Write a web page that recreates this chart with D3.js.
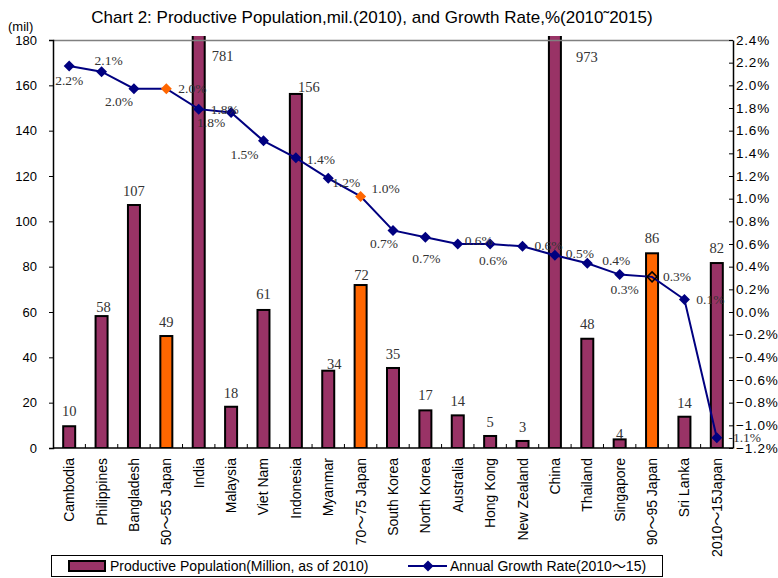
<!DOCTYPE html>
<html>
<head>
<meta charset="utf-8">
<script src="https://cdn.jsdelivr.net/npm/d3@7"></script>
<style>
  body { margin: 0; background: #fff; }
  svg { display: block; }
  .sans { font-family: "Liberation Sans", Arial, "Noto Sans CJK JP", sans-serif; }
  .serif { font-family: "Liberation Serif", "Times New Roman", serif; }
</style>
</head>
<body>
<svg id="chart" width="778" height="578"></svg>
<script>
// categories, in chart order
var categories = ['Cambodia', 'Philippines', 'Bangladesh', '50〜55 Japan', 'India',
  'Malaysia', 'Viet Nam', 'Indonesia', 'Myanmar', '70〜75 Japan', 'South Korea',
  'North Korea', 'Australia', 'Hong Kong', 'New Zealand', 'China', 'Thailand',
  'Singapore', '90〜95 Japan', 'Sri Lanka', '2010〜15Japan'];

// productive population, million (2010)
var population = [9.6, 58.2, 107.2, 49.4, 781, 18.2, 60.9, 156.2, 34.1, 71.9, 35.3,
  16.6, 14.4, 5.3, 3.1, 973, 48.2, 3.8, 85.9, 13.8, 81.6];

// annual growth rate, % (2010-15)
var growthRate = [2.17, 2.12, 1.97, 1.97, 1.79, 1.76, 1.51, 1.36, 1.18, 1.02, 0.72,
  0.66, 0.60, 0.60, 0.58, 0.50, 0.43, 0.33, 0.31, 0.11, -1.11];

// historic Japan periods drawn in orange
var japanPeriods = ['50〜55 Japan', '70〜75 Japan', '90〜95 Japan'];
var orangeMarkers = ['50〜55 Japan', '70〜75 Japan'];
var hollowMarkers = ['90〜95 Japan'];

var popTicks = [0, 20, 40, 60, 80, 100, 120, 140, 160, 180];
var rateTicks = [-1.2, -1.0, -0.8, -0.6, -0.4, -0.2, 0, 0.2, 0.4, 0.6, 0.8, 1.0,
  1.2, 1.4, 1.6, 1.8, 2.0, 2.2, 2.4];

var title = 'Chart 2: Productive Population,mil.(2010), and Growth Rate,%(2010˜2015)';
var legendPop = 'Productive Population(Million, as of 2010)';
var legendRate = 'Annual Growth Rate(2010〜15)';

// label nudges, as Excel placed them (dx, dy in px)
var popLabelOffset = [[0, -15], [2, -9], [0, -14], [0, -14], [24, 16], [0, -14],
  [0, -16], [13, -7], [6, -7], [1, -10], [0, -14], [0, -15], [0, -14], [0, -14],
  [0, -14], [32, 17], [0, -15], [0, -5], [0, -15], [0, -14], [0, -15]];
var rateLabelOffset = [[0, 14.5], [7, -11], [-15, 13], [26, 0], [26, 0], [-20, 10],
  [-19, 13], [25, 1], [18, 4], [25, -8], [-9, 13], [1, 21], [21, -4], [3, 16],
  [26, -1], [25, -2], [29, -3], [5, 15], [25, -1], [26, 0], [28, -1]];

var purple = '#993366';
var orange = '#FF6600';
var navy = '#000080';

var plot = {left: 53, right: 733, top: 40, bottom: 448};

var svg = d3.select('#chart');

var x = d3.scaleBand()
  .domain(categories)
  .range([plot.left, plot.right]);

var yPop = d3.scaleLinear()
  .domain([0, 180])
  .range([plot.bottom, plot.top]);

var yRate = d3.scaleLinear()
  .domain([-1.2, 2.4])
  .range([plot.bottom, plot.top]);

// title
svg.append('text')
  .attr('class', 'sans')
  .attr('x', 372)
  .attr('y', 23)
  .attr('text-anchor', 'middle')
  .style('font-size', '17px')
  .text(title);

svg.append('text')
  .attr('class', 'sans')
  .attr('x', 8)
  .attr('y', 31)
  .style('font-size', '13px')
  .text('(mil)');

// clip tall bars a bit above the plot top like the original
svg.append('clipPath')
  .attr('id', 'plot-clip')
  .append('rect')
  .attr('x', 0)
  .attr('y', plot.top - 4)
  .attr('width', 778)
  .attr('height', plot.bottom - plot.top + 4);

var barW = 12;
var bars = svg.append('g').attr('clip-path', 'url(#plot-clip)');
bars.selectAll('rect')
  .data(categories)
  .enter()
  .append('rect')
  .attr('x', function (d) { return x(d) + x.bandwidth() / 2 - barW / 2; })
  .attr('y', function (d, i) { return yPop(population[i]); })
  .attr('width', barW)
  .attr('height', function (d, i) { return yPop(0) - yPop(population[i]); })
  .attr('fill', function (d) { return japanPeriods.indexOf(d) >= 0 ? orange : purple; })
  .attr('stroke', '#000')
  .attr('stroke-width', 2);

// top border of the plot area
svg.append('line')
  .attr('x1', plot.left).attr('x2', plot.right)
  .attr('y1', plot.top + 0.5).attr('y2', plot.top + 0.5)
  .attr('stroke', '#808080')
  .attr('stroke-width', 1.5);

// left axis
var leftAxis = svg.append('g')
  .attr('class', 'sans')
  .attr('transform', 'translate(' + plot.left + ',0)')
  .call(d3.axisLeft(yPop).tickValues(popTicks).tickSize(4).tickPadding(12));
leftAxis.select('.domain').attr('stroke', '#000').attr('stroke-width', 1.5);
leftAxis.selectAll('text').style('font-size', '13px').attr('fill', '#000');

// right axis, ticks point inward
var rightAxis = svg.append('g')
  .attr('class', 'sans')
  .attr('transform', 'translate(' + plot.right + ',0)')
  .call(d3.axisRight(yRate).tickValues(rateTicks).tickSize(-4).tickSizeOuter(0).tickPadding(3)
    .tickFormat(function (d) { return (d < 0 ? '−' : '') + Math.abs(d).toFixed(1) + '%'; }));
rightAxis.select('.domain').attr('stroke', '#000').attr('stroke-width', 1.5);
rightAxis.selectAll('text').style('font-size', '13.5px').style('letter-spacing', '0.8px').attr('fill', '#000');

// bottom axis line and category boundary ticks pointing up
var bottom = svg.append('g');
bottom.append('line')
  .attr('x1', plot.left).attr('x2', plot.right)
  .attr('y1', plot.bottom).attr('y2', plot.bottom)
  .attr('stroke', '#000')
  .attr('stroke-width', 1.5);
bottom.selectAll('.xtick')
  .data(categories.slice(1))
  .enter()
  .append('line')
  .attr('class', 'xtick')
  .attr('x1', function (d) { return x(d); })
  .attr('x2', function (d) { return x(d); })
  .attr('y1', plot.bottom)
  .attr('y2', plot.bottom - 4)
  .attr('stroke', '#000');

svg.append('g')
  .attr('class', 'sans')
  .selectAll('text')
  .data(categories)
  .enter()
  .append('text')
  .attr('transform', function (d) {
    return 'translate(' + (x(d) + x.bandwidth() / 2 + 5) + ',' + (plot.bottom + 10) + ') rotate(-90)';
  })
  .attr('text-anchor', 'end')
  .style('font-size', '14px')
  .text(function (d) { return d; });

// growth rate line
var ratePts = categories.map(function (d, i) {
  return [x(d) + x.bandwidth() / 2, yRate(growthRate[i])];
});
svg.append('path')
  .attr('d', d3.line()(ratePts))
  .attr('fill', 'none')
  .attr('stroke', navy)
  .attr('stroke-width', 2);

var diamond = 'M0,-5.5L5.5,0L0,5.5L-5.5,0Z';
svg.append('g')
  .selectAll('path')
  .data(categories)
  .enter()
  .append('path')
  .attr('d', function (d) { return hollowMarkers.indexOf(d) >= 0 ? 'M0,-5L5,0L0,5L-5,0Z' : diamond; })
  .attr('transform', function (d, i) { return 'translate(' + ratePts[i][0] + ',' + ratePts[i][1] + ')'; })
  .attr('fill', function (d) {
    if (hollowMarkers.indexOf(d) >= 0) return 'none';
    return orangeMarkers.indexOf(d) >= 0 ? orange : navy;
  })
  .attr('stroke', function (d) { return hollowMarkers.indexOf(d) >= 0 ? '#000' : 'none'; })
  .attr('stroke-width', 1.5);

// population labels
svg.append('g')
  .attr('class', 'serif')
  .selectAll('text')
  .data(categories)
  .enter()
  .append('text')
  .attr('x', function (d, i) { return x(d) + x.bandwidth() / 2 + popLabelOffset[i][0]; })
  .attr('y', function (d, i) {
    var top = Math.max(yPop(population[i]), plot.top);
    return top + popLabelOffset[i][1];
  })
  .attr('dy', '0.35em')
  .attr('text-anchor', 'middle')
  .attr('fill', '#333')
  .style('font-size', '14.5px')
  .text(function (d, i) { return population[i].toFixed(0); });

// growth rate labels
svg.append('g')
  .attr('class', 'serif')
  .selectAll('text')
  .data(categories)
  .enter()
  .append('text')
  .attr('x', function (d, i) { return ratePts[i][0] + rateLabelOffset[i][0]; })
  .attr('y', function (d, i) { return ratePts[i][1] + rateLabelOffset[i][1]; })
  .attr('dy', '0.35em')
  .attr('text-anchor', 'middle')
  .attr('fill', '#333')
  .style('font-size', '13.5px')
  .text(function (d, i) { return growthRate[i].toFixed(1) + '%'; });

// legend
var legend = svg.append('g').attr('class', 'sans');
legend.append('rect')
  .attr('x', 51.5).attr('y', 555.5)
  .attr('width', 611).attr('height', 21)
  .attr('fill', '#fff')
  .attr('stroke', '#000');
legend.append('rect')
  .attr('x', 69).attr('y', 561)
  .attr('width', 36).attr('height', 10)
  .attr('fill', purple)
  .attr('stroke', '#000')
  .attr('stroke-width', 2);
legend.append('text')
  .attr('x', 110).attr('y', 571)
  .style('font-size', '14px')
  .text(legendPop);
legend.append('line')
  .attr('x1', 408).attr('x2', 447)
  .attr('y1', 566).attr('y2', 566)
  .attr('stroke', navy)
  .attr('stroke-width', 2);
legend.append('path')
  .attr('d', diamond)
  .attr('transform', 'translate(428,566)')
  .attr('fill', navy);
legend.append('text')
  .attr('x', 450).attr('y', 571)
  .style('font-size', '14px')
  .text(legendRate);
</script>
</body>
</html>
